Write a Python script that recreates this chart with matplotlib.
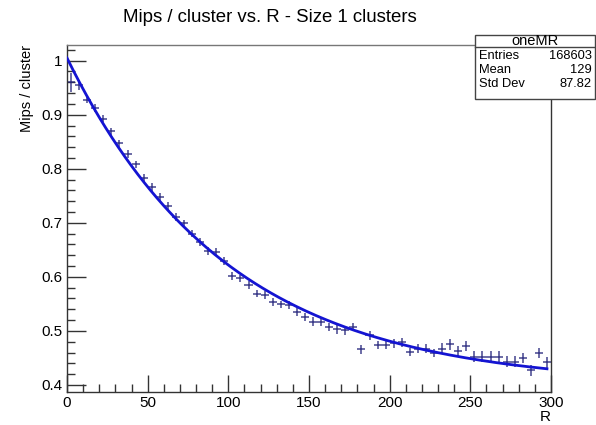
import numpy as np
import matplotlib
matplotlib.use('Agg')
from matplotlib import pyplot as plt
from matplotlib.patches import Rectangle
from matplotlib.lines import Line2D
from matplotlib.ticker import MultipleLocator

plt.rcParams['font.family'] = ['Liberation Sans', 'DejaVu Sans']

# bin centres (width 5) and mips / cluster per bin
r = np.arange(2.5, 300, 5.0)
mips = [0.960, 0.955, 0.928, 0.912, 0.893, 0.869, 0.847, 0.827, 0.808, 0.783,
        0.766, 0.748, 0.731, 0.711, 0.699, 0.680, 0.665, 0.648, 0.646, 0.629,
        0.602, 0.597, 0.585, 0.569, 0.566, 0.554, 0.549, 0.548, 0.535, 0.526,
        0.517, 0.517, 0.507, 0.503, 0.501, 0.507, 0.466, 0.492, 0.474, 0.474,
        0.477, 0.479, 0.461, 0.467, 0.467, 0.459, 0.467, 0.475, 0.463, 0.472,
        0.452, 0.452, 0.452, 0.452, 0.443, 0.443, 0.450, 0.427, 0.459, 0.442]
err = [0.018, 0.010] + [0.007] * 28 + [0.008] * 16 + [0.010] * 14

# fit p0 + p1*exp(-R/p2)
p0, p1, p2 = 0.399, 0.606, 100.0

stats_name = 'oneMR'
stats_rows = [('Entries', '168603'), ('Mean', '129'), ('Std Dev', '87.82')]

fig = plt.figure(figsize=(5.96, 4.25), dpi=100)
ax = fig.add_axes([67/596, 1-392/425, 484/596, 347/425])

ax.errorbar(r, mips, xerr=2.5, yerr=err, fmt='none', ecolor='#23237a',
            elinewidth=1.1, alpha=0.85, zorder=2)
rr = np.linspace(0, 297.5, 300)
ax.plot(rr, p0 + p1*np.exp(-rr/p2), color='#1414d2', lw=2.0, zorder=3)

ax.set_xlim(0, 300)
ax.set_ylim(0.387, 1.029)
ax.xaxis.set_major_locator(MultipleLocator(50))
ax.xaxis.set_minor_locator(MultipleLocator(10))
ax.yaxis.set_major_locator(MultipleLocator(0.1))
ax.yaxis.set_minor_locator(MultipleLocator(0.02))
ax.tick_params(which='both', direction='in', top=False, right=False,
               labelsize=11, color='#333333')
ax.tick_params(which='major', length=12, width=1)
ax.tick_params(which='minor', length=6, width=1)
ax.tick_params(axis='y', which='major', length=14)
ax.tick_params(axis='x', pad=3)
ax.set_yticks([0.4, 0.5, 0.6, 0.7, 0.8, 0.9, 1.0])
ax.set_yticklabels(['0.4', '0.5', '0.6', '0.7', '0.8', '0.9', '1'])
for s in ax.spines.values():
    s.set_color('#333333')
    s.set_linewidth(1)
ax.spines['top'].set_color('#777777')

ax.set_xlabel('R', fontsize=11, loc='right', labelpad=0)
ax.set_ylabel('Mips / cluster', fontsize=10.5, loc='top', labelpad=5)

fig.text(270/596, 1-17/425, 'Mips / cluster vs. R - Size 1 clusters',
         ha='center', va='center', fontsize=13.4)

# stats box
x0, x1, y0, y1 = 475/596, 595/596, 1-99/425, 1-35/425
fig.patches.append(Rectangle((x0, y0), x1-x0, y1-y0, transform=fig.transFigure,
                             facecolor='white', edgecolor='#444444', lw=1, zorder=5))
yl = 1-47/425
fig.lines.append(Line2D([x0, x1], [yl, yl], transform=fig.transFigure,
                        color='#444444', lw=1, zorder=6))
fig.text((x0+x1)/2, 1-41/425, stats_name, ha='center', va='center', fontsize=10.5, zorder=7)
for i, (k, v) in enumerate(stats_rows):
    y = 1-(56+14*i)/425
    fig.text(x0+4/596, y, k, ha='left', va='center', fontsize=9.3, zorder=7)
    fig.text(x1-3/596, y, v, ha='right', va='center', fontsize=9.3, zorder=7)

fig.savefig('out.png', dpi=100)
